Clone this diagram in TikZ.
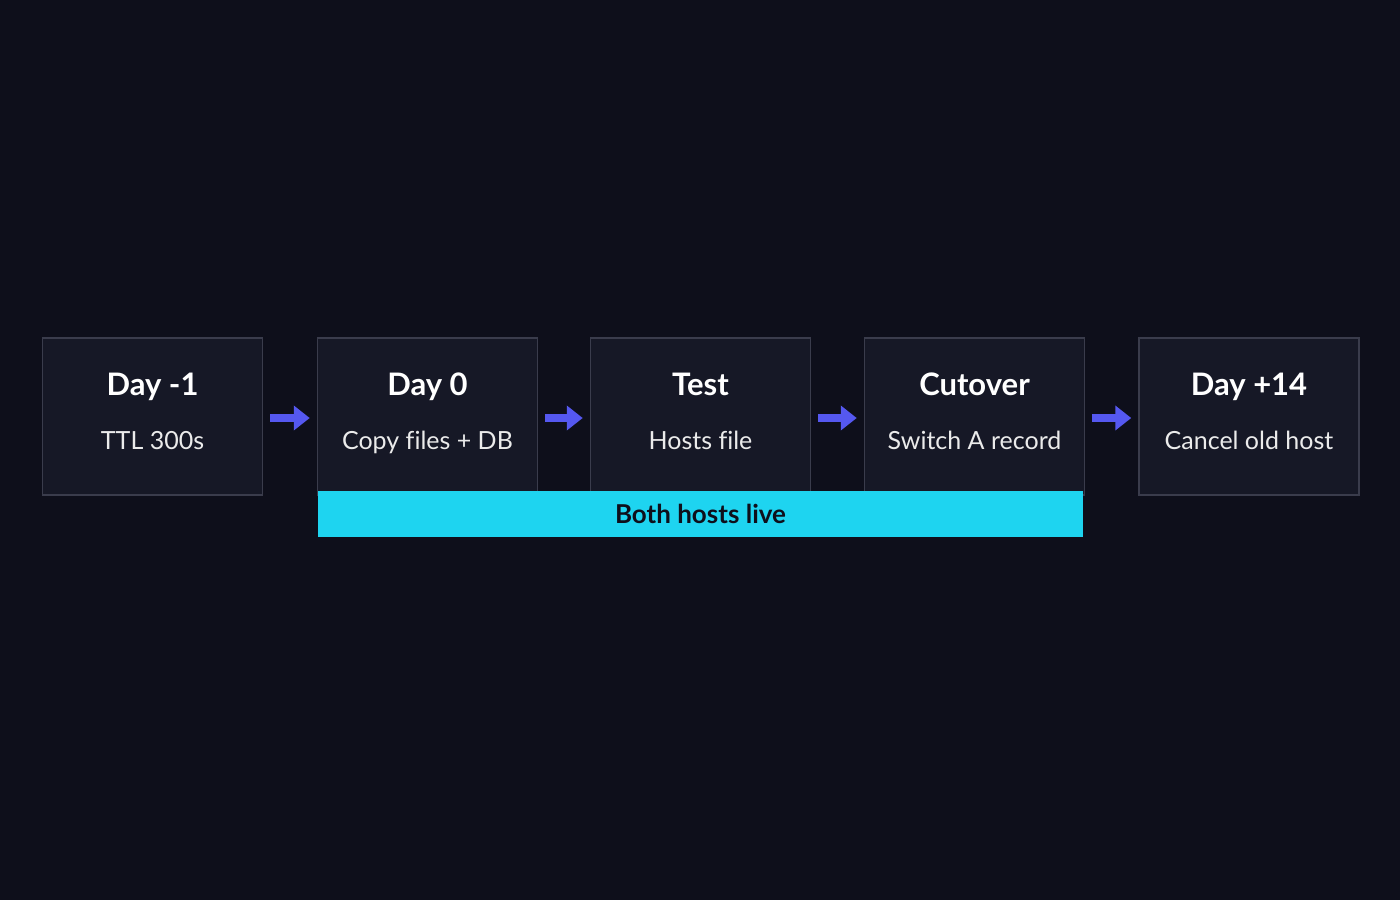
\documentclass[tikz,border=0pt]{standalone}
\usepackage{fontspec}
\setmainfont[Ligatures=NoCommon]{Lato}
\usetikzlibrary{arrows.meta}
\definecolor{bg}{HTML}{0E0F1B}
\definecolor{boxfill}{HTML}{161826}
\definecolor{boxline}{HTML}{3A3C4C}
\definecolor{arr}{HTML}{5558F0}
\definecolor{bar}{HTML}{1ED4F0}
\begin{document}
\begin{tikzpicture}[x=1pt,y=-1pt,
  box/.style={draw=boxline,line width=1.5pt,fill=boxfill,minimum width=220pt,minimum height=157pt,inner sep=0pt},
  ttl/.style={anchor=base,font=\fontsize{31}{36}\selectfont\bfseries,text=white},
  sub/.style={anchor=base,font=\fontsize{25}{30}\selectfont,text=white!92!black},
  link/.style={draw=arr,line width=8pt,-{Triangle[length=16pt,width=24pt]},shorten <=7pt,shorten >=7pt}]
\fill[bg] (0,0) rectangle (1400,900);
\useasboundingbox (0,0) rectangle (1400,900);
\foreach \n/\cx/\t/\s in {a/152.5/Day -1/TTL 300s, b/427.5/Day 0/Copy files + DB, c/700.5/Test/Hosts file, d/974.5/Cutover/Switch A record, e/1249/Day +14/Cancel old host}{
  \node[box] (\n) at (\cx,416.5) {};
  \node[ttl] (\n t) at (\cx,395) {\t};
  \node[sub] (\n s) at (\cx,449) {\s};
}
\node[fill=bar,minimum width=765pt,minimum height=46pt,inner sep=0pt] (live) at (700.5,513.5) {};
\node[anchor=base,font=\fontsize{26}{30}\selectfont\bfseries,text=bg] (livet) at (700.5,523) {Both hosts live};
\draw[link] (a.east|-0,418) -- (b.west|-0,418);
\draw[link] (b.east|-0,418) -- (c.west|-0,418);
\draw[link] (c.east|-0,418) -- (d.west|-0,418);
\draw[link] (d.east|-0,418) -- (e.west|-0,418);
\end{tikzpicture}
\end{document}
